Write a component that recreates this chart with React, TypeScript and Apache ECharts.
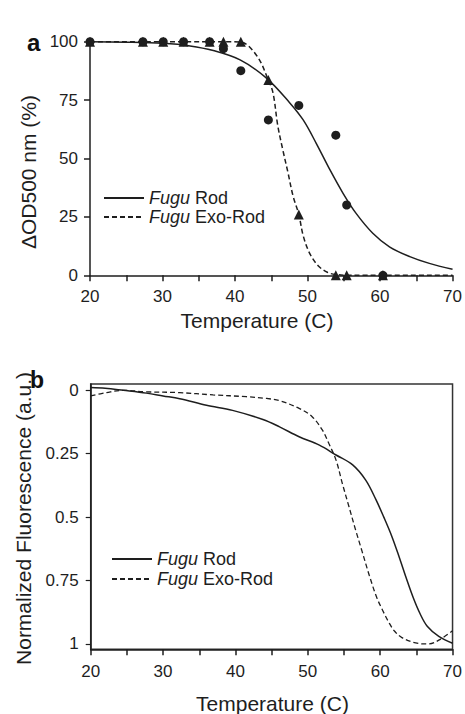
import React, { useEffect, useRef } from "react";
import * as echarts from "echarts";

// Panel a: measured points
const rodTemps = [20, 27.3, 30.1, 32.9, 36.5, 38.4, 40.8, 44.6, 48.8, 53.9, 55.4, 60.4];
const rodValues = [100, 100, 100, 100, 100, 97, 87.6, 66.5, 72.7, 60, 30.1, 0];
const exoTemps = [20, 27.3, 30.1, 32.9, 36.5, 38.4, 40.8, 44.6, 48.8, 53.9, 55.4, 60.4];
const exoValues = [100, 100, 100, 100, 100, 100, 100, 83.6, 26, 0, 0, 0];

// Panel a: fitted curves
const rodFitTemps = [20, 25, 30, 33.8, 37, 40.7, 44.3, 47.5, 49.4, 51.2, 53.1, 54.9, 56.7, 59, 61.3, 64.1, 66.8, 70];
const rodFitValues = [100, 99.8, 99.3, 98.2, 96.2, 92.2, 84.5, 74, 66.5, 56.5, 45.1, 35.1, 26.5, 18, 12.2, 8, 5.1, 2.6];
const exoFitTemps = [20, 38.4, 40.8, 43, 44.6, 45.25, 45.9, 46.6, 47.3, 48, 48.8, 49.4, 50.3, 51.5, 52.8, 54, 56, 70];
const exoFitValues = [100, 100, 99.8, 94, 83.6, 77.9, 64, 53.6, 44, 34, 26, 17, 9.4, 4, 1.2, 0.3, 0, 0];

// Panel b: fluorescence curves
const rodFluTemps = [20, 22, 24.5, 27.7, 30, 32.3, 36, 39.6, 43.8, 46.1, 48.8, 51.6, 53.9, 56.2, 58, 59.4, 60.5, 61.6, 62.6, 63.6, 64.6, 65.5, 66.5, 68.1, 70];
const rodFluValues = [-0.011, -0.008, 0, 0.011, 0.022, 0.033, 0.059, 0.079, 0.115, 0.144, 0.183, 0.216, 0.255, 0.294, 0.354, 0.43, 0.5, 0.575, 0.655, 0.74, 0.82, 0.88, 0.93, 0.97, 0.997];
const exoFluTemps = [20, 22.2, 24.5, 27.7, 32.3, 36.9, 41.5, 44.3, 46.1, 48.8, 50.6, 52, 52.9, 53.9, 54.8, 55.7, 56.6, 57.5, 58.5, 59.5, 60.3, 61.2, 62, 63, 64.9, 66.7, 68.1, 70];
const exoFluValues = [0.022, 0.009, 0, 0.006, 0.009, 0.018, 0.025, 0.032, 0.041, 0.071, 0.104, 0.156, 0.209, 0.275, 0.37, 0.46, 0.55, 0.635, 0.73, 0.815, 0.865, 0.915, 0.95, 0.975, 0.996, 1.0, 0.985, 0.948];

const xTicksA = [20, 30, 40, 50, 60, 70];
const yTicksA = [0, 25, 50, 75, 100];
const yTicksB = [0, 0.25, 0.5, 0.75, 1];

const seriesNames = ["Fugu Rod", "Fugu Exo-Rod"];

const FONT = "Liberation Sans, Arial, Helvetica, sans-serif";
const INK = "#1e1e1e";

const zip = (xs: number[], ys: number[]) => xs.map((x, i) => [x, ys[i]]);

export default function App() {
  const ref = useRef<HTMLDivElement>(null);
  useEffect(() => {
    if (!ref.current) return;
    const chart = echarts.init(ref.current, undefined, { renderer: "svg" });

    const xAxisCommon = (gridIndex: number) => ({
      type: "value",
      gridIndex,
      min: 20,
      max: 70,
      interval: 5,
      axisLine: { show: true, onZero: false, lineStyle: { color: INK, width: 1.5 } },
      axisTick: { show: true, inside: false, length: 6, lineStyle: { color: INK, width: 1.5 } },
      splitLine: { show: false },
      axisLabel: {
        color: INK,
        fontSize: 17,
        fontFamily: FONT,
        margin: gridIndex === 0 ? 13 : 14,
        showMaxLabel: true,
        formatter: (v: number) => (xTicksA.includes(v) ? String(v) : ""),
      },
    });

    const legendCommon = {
      orient: "vertical",
      selectedMode: false,
      padding: 0,
      itemWidth: 40,
      itemHeight: 14,
      data: seriesNames,
      itemStyle: { opacity: 0 },
      lineStyle: { opacity: 1 },
      formatter: (name: string) => name.replace("Fugu", "{i|Fugu}"),
      textStyle: {
        color: INK,
        fontSize: 18,
        fontFamily: FONT,
        rich: { i: { fontStyle: "italic", fontSize: 18, fontFamily: FONT, color: INK } },
      },
    };

    const lineSeries = (name: string, idx: number, xs: number[], ys: number[], dashed: boolean, width: number) => ({
      name,
      type: "line",
      xAxisIndex: idx,
      yAxisIndex: idx,
      data: zip(xs, ys),
      smooth: 0.35,
      symbol: "none",
      showSymbol: false,
      clip: false,
      lineStyle: { color: INK, width, type: dashed ? [5, 3] : "solid" },
      itemStyle: { color: INK },
    });

    const option: any = {
      animation: false,
      backgroundColor: "#ffffff",
      textStyle: { fontFamily: FONT },
      grid: [
        { left: 90, top: 41.7, width: 363, height: 233.6, containLabel: false },
        {
          left: 90.7,
          top: 384,
          width: 363.3,
          height: 265.3,
          containLabel: false,
          show: true,
          borderColor: "#333",
          borderWidth: 1.5,
        },
      ],
      xAxis: [xAxisCommon(0), xAxisCommon(1)],
      yAxis: [
        {
          type: "value",
          gridIndex: 0,
          min: 0,
          max: 100,
          interval: 25,
          axisLine: { show: true, lineStyle: { color: INK, width: 1.5 } },
          axisTick: { show: true, inside: false, length: 6, lineStyle: { color: INK, width: 1.5 } },
          splitLine: { show: false },
          axisLabel: {
            color: INK,
            fontSize: 17,
            fontFamily: FONT,
            margin: 12,
            formatter: (v: number) => (yTicksA.includes(v) ? String(v) : ""),
          },
        },
        {
          type: "value",
          gridIndex: 1,
          inverse: true,
          min: -0.025,
          max: 1.021,
          axisLine: { show: true, lineStyle: { color: INK, width: 1.5 } },
          axisTick: {
            show: true,
            inside: false,
            length: 5,
            customValues: yTicksB,
            lineStyle: { color: INK, width: 1.2 },
          },
          splitLine: { show: false },
          axisLabel: {
            color: INK,
            fontSize: 17,
            fontFamily: FONT,
            margin: 12,
            customValues: yTicksB,
            formatter: (v: number) => String(v),
          },
        },
      ],
      legend: [
        { ...legendCommon, left: 103, top: 189, itemGap: 1 },
        { ...legendCommon, left: 111, top: 550, itemGap: 2 },
      ],
      series: [
        lineSeries("Fugu Rod", 0, rodFitTemps, rodFitValues, false, 1.5),
        lineSeries("Fugu Exo-Rod", 0, exoFitTemps, exoFitValues, true, 1.5),
        {
          name: "exoPoints",
          type: "scatter",
          xAxisIndex: 0,
          yAxisIndex: 0,
          data: zip(exoTemps, exoValues),
          symbol: "triangle",
          symbolSize: 10,
          clip: false,
          itemStyle: { color: INK, opacity: 1 },
          z: 3,
        },
        {
          name: "rodPoints",
          type: "scatter",
          xAxisIndex: 0,
          yAxisIndex: 0,
          data: zip(rodTemps, rodValues),
          symbol: "circle",
          symbolSize: 9,
          clip: false,
          itemStyle: { color: INK, opacity: 1 },
          z: 4,
        },
        lineSeries("Fugu Rod", 1, rodFluTemps, rodFluValues, false, 1.5),
        lineSeries("Fugu Exo-Rod", 1, exoFluTemps, exoFluValues, true, 1.3),
      ],
      graphic: [
        {
          type: "text",
          x: 27,
          y: 30,
          style: { text: "a", fontSize: 24, fontWeight: "bold", fontFamily: FONT, fill: "#111", align: "left", verticalAlign: "alphabetic" },
        },
        {
          type: "text",
          x: 30,
          y: 368,
          style: { text: "b", fontSize: 23, fontWeight: "bold", fontFamily: FONT, fill: "#111", align: "left", verticalAlign: "alphabetic" },
        },
        {
          type: "text",
          x: 257,
          y: 320,
          style: { text: "Temperature (C)", fontSize: 21, fontFamily: FONT, fill: INK, align: "center", verticalAlign: "middle" },
        },
        {
          type: "text",
          x: 28,
          y: 172,
          rotation: Math.PI / 2,
          style: { text: "ΔOD500 nm (%)", fontSize: 21, fontFamily: FONT, fill: INK, align: "center", verticalAlign: "middle" },
        },
        {
          type: "text",
          x: 272.5,
          y: 703,
          style: { text: "Temperature (C)", fontSize: 21, fontFamily: FONT, fill: INK, align: "center", verticalAlign: "middle" },
        },
        {
          type: "text",
          x: 23,
          y: 518.5,
          rotation: Math.PI / 2,
          style: { text: "Normalized Fluorescence (a.u.)", fontSize: 21, fontFamily: FONT, fill: INK, align: "center", verticalAlign: "middle" },
        },
      ],
    };

    chart.setOption(option);
    return () => chart.dispose();
  }, []);

  return (
    <div
      ref={ref}
      style={{ position: "fixed", left: 0, top: 0, width: 465, height: 714, background: "#fff" }}
    />
  );
}
